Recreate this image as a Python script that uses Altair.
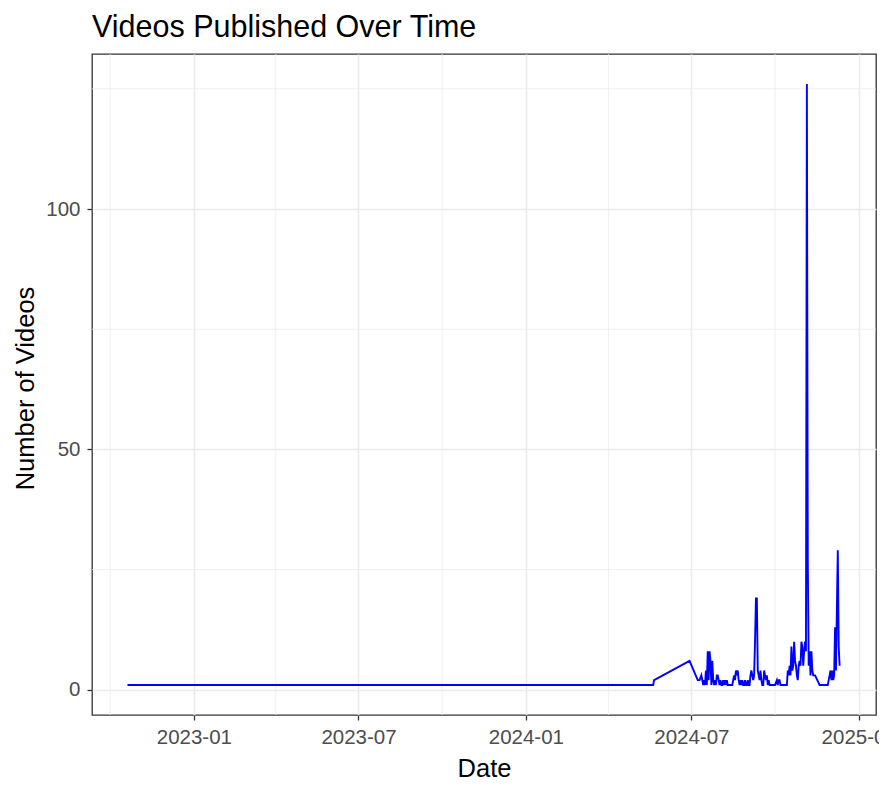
import pandas as pd
import altair as alt

# daily upload counts
dates = [
    "2022-10-20", "2024-05-20", "2024-05-21", "2024-06-29",
    "2024-07-08", "2024-07-10", "2024-07-12", "2024-07-14", "2024-07-15", "2024-07-16",
    "2024-07-17", "2024-07-18", "2024-07-19", "2024-07-20", "2024-07-21", "2024-07-22",
    "2024-07-23", "2024-07-24", "2024-07-25", "2024-07-26", "2024-07-27", "2024-07-28",
    "2024-07-29", "2024-07-30", "2024-07-31",
    "2024-08-01", "2024-08-02", "2024-08-03", "2024-08-04", "2024-08-05", "2024-08-06",
    "2024-08-07", "2024-08-08", "2024-08-09", "2024-08-10", "2024-08-12", "2024-08-14",
    "2024-08-15", "2024-08-17", "2024-08-18", "2024-08-19", "2024-08-20", "2024-08-21",
    "2024-08-22", "2024-08-23", "2024-08-24", "2024-08-25", "2024-08-26", "2024-08-27",
    "2024-08-28", "2024-08-29", "2024-08-30", "2024-08-31",
    "2024-09-01", "2024-09-02", "2024-09-03", "2024-09-04", "2024-09-05", "2024-09-06",
    "2024-09-07", "2024-09-08", "2024-09-09", "2024-09-10", "2024-09-11", "2024-09-12",
    "2024-09-13", "2024-09-14", "2024-09-15", "2024-09-16", "2024-09-17", "2024-09-18",
    "2024-09-19", "2024-09-20", "2024-09-21", "2024-09-22", "2024-09-23", "2024-09-24",
    "2024-09-25", "2024-09-27", "2024-09-29",
    "2024-10-01", "2024-10-03", "2024-10-04", "2024-10-05", "2024-10-06", "2024-10-07",
    "2024-10-08", "2024-10-10", "2024-10-12", "2024-10-14", "2024-10-15", "2024-10-16",
    "2024-10-17", "2024-10-18", "2024-10-19", "2024-10-20", "2024-10-21", "2024-10-22",
    "2024-10-23", "2024-10-24", "2024-10-25", "2024-10-26", "2024-10-27", "2024-10-28",
    "2024-10-29", "2024-10-30", "2024-10-31",
    "2024-11-01", "2024-11-02", "2024-11-03", "2024-11-04", "2024-11-05", "2024-11-06",
    "2024-11-07", "2024-11-08", "2024-11-09", "2024-11-10", "2024-11-11", "2024-11-12",
    "2024-11-13", "2024-11-14", "2024-11-19", "2024-11-21", "2024-11-23", "2024-11-25",
    "2024-11-28", "2024-11-29", "2024-11-30",
    "2024-12-01", "2024-12-02", "2024-12-03", "2024-12-04", "2024-12-05", "2024-12-06",
    "2024-12-07", "2024-12-08", "2024-12-09", "2024-12-10", "2024-12-11",
]
videos = [
    1, 1, 2, 6,
    2, 2, 3, 1, 2, 1,
    4, 1, 8, 2, 8, 6,
    1, 6, 2, 1, 2, 1,
    3, 3, 2,
    1, 2, 1, 1, 2, 1,
    2, 1, 2, 1, 1, 1,
    1, 3, 2, 4, 3, 4,
    2, 1, 2, 1, 2, 1,
    1, 2, 1, 1,
    2, 1, 1, 3, 4, 3,
    2, 3, 10, 19, 19, 4,
    3, 2, 4, 2, 1, 1,
    4, 3, 2, 3, 1, 2,
    1, 1, 1,
    1, 2, 1, 2, 2, 1,
    1, 1, 1, 1, 4, 3,
    5, 3, 9, 4, 5, 10,
    6, 5, 3, 2, 5, 6,
    5, 10, 9,
    5, 8, 10, 8, 126, 27,
    5, 8, 3, 8, 4, 3,
    3, 3, 1, 1, 1, 1,
    1, 2, 3,
    4, 2, 4, 2, 3, 13,
    4, 17, 29, 9, 5,
]

x_breaks = [(2023, 1), (2023, 7), (2024, 1), (2024, 7), (2025, 1)]
x_minor = ["2022-10-01", "2023-04-01", "2023-10-01", "2024-04-01", "2024-10-01"]
y_breaks = [0, 50, 100]
y_minor = [25, 75, 125]

df = pd.DataFrame({"Date": dates, "Videos": videos})

x_scale = alt.Scale(type="utc", nice=False,
                    domain=[alt.DateTime(year=2022, month=9, date=11, utc=True),
                            alt.DateTime(year=2025, month=1, date=20, utc=True)])
y_scale = alt.Scale(domain=[-5.25, 132.25], nice=False, zero=False)

# same axis objects in every layer so the merged axes stay intact
x_axis = alt.Axis(values=[alt.DateTime(year=y, month=m, date=1, utc=True) for y, m in x_breaks],
                  format="%Y-%m", title="Date", labelPadding=7,
                  titleY=61, titleBaseline="alphabetic")
y_axis = alt.Axis(values=y_breaks, title="Number of Videos", labelPadding=7,
                  titleX=-59, titleY=334, titleBaseline="alphabetic",
                  titleAlign="center", titleAngle=-90)

minor_v = alt.Chart(pd.DataFrame({"d": x_minor})).mark_rule(
    color="#EBEBEB", strokeWidth=0.8).encode(x=alt.X("d:T", scale=x_scale, axis=x_axis, title="Date"))
minor_h = alt.Chart(pd.DataFrame({"v": y_minor})).mark_rule(
    color="#EBEBEB", strokeWidth=0.8).encode(y=alt.Y("v:Q", scale=y_scale, axis=y_axis, title="Number of Videos"))

line = alt.Chart(df).mark_line(color="#0000FF", strokeWidth=1.9).encode(
    x=alt.X("Date:T", scale=x_scale, axis=x_axis, title="Date"),
    y=alt.Y("Videos:Q", scale=y_scale, axis=y_axis, title="Number of Videos"),
)

chart = alt.layer(minor_v, minor_h, line).properties(
    width=784, height=661,
    autosize=alt.AutoSizeParams(type="none"),
    padding={"left": 84, "top": 46, "right": 3, "bottom": 69},
    title=alt.TitleParams("Videos Published Over Time", anchor="start", frame="group",
                          fontSize=30.5, fontWeight="normal", color="black", offset=10),
).configure(font="Liberation Sans").configure_view(
    stroke="#333333", strokeWidth=1.3
).configure_axis(
    grid=True, gridColor="#EBEBEB", gridWidth=1.6, domain=False,
    tickColor="#333333", tickSize=5, tickWidth=1.3,
    labelColor="#4D4D4D", labelFontSize=20.5, labelFont="Liberation Sans",
    titleColor="black", titleFontSize=25.5, titleFontWeight="normal", titleFont="Liberation Sans",
)

chart.save("out.html", embed_options={"renderer": "svg", "actions": False})
